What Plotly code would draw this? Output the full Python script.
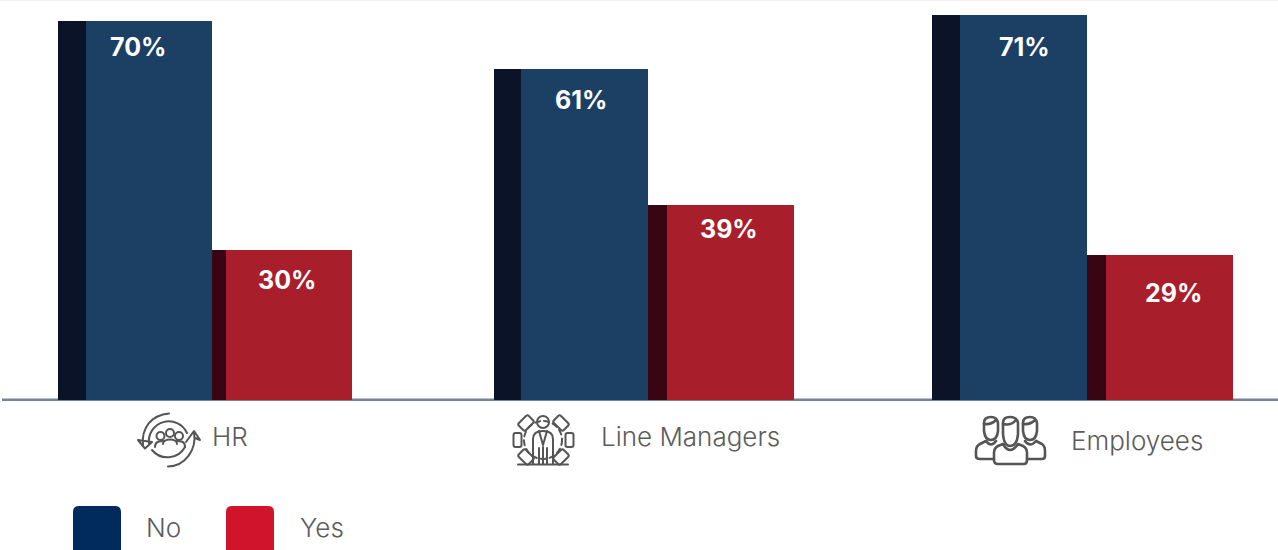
import base64
import plotly.graph_objects as go

# Survey results
categories = ["HR", "Line Managers", "Employees"]
no_values = [70, 61, 71]
yes_values = [30, 39, 29]
series_names = ["No", "Yes"]

W, H = 1278, 550
BASE_PX = 400
NO_SCALE = 5.42    # pixels per percentage point, "No" bars
YES_SCALE = 5.0    # pixels per percentage point, "Yes" bars

# Horizontal bar geometry, one row per group: side-face left, front left, front right
NO_GEOM = [(58, 86, 212), (494, 521, 648), (932, 960, 1087)]
YES_GEOM = [(212, 226, 352), (648, 667, 794), (1087, 1106, 1233)]
# Value label anchors (x centre, y centre)
NO_LABEL_POS = [(138, 47), (581, 100), (1024, 47)]
YES_LABEL_POS = [(287, 280), (729, 229), (1173, 293)]
CAT_LABEL_POS = [(210, 436), (599, 436), (1069, 441)]

NO_FRONT, NO_SIDE, YES_FRONT, YES_SIDE = "#1c3f64", "#0a1327", "#a81e2b", "#3a0513"
NO_KEY, YES_KEY = "#012b5d", "#d0142c"
TEXT = "#5c5c5c"
ICON = "#555555"
LABEL_FONT = dict(family="Inter, sans-serif", size=25, color="white", weight=700)
TEXT_FONT = dict(family="Inter, sans-serif", size=26, color=TEXT, weight=300)


def py(px):
    return 1 - px / H


def bar_pair(values, geom, front, side, axis, name):
    """A solid front face plus the darker side face, both from the same values."""
    side_x = [(g[0] + g[1]) / 2 for g in geom]
    side_w = [g[1] - g[0] for g in geom]
    front_x = [(g[1] + g[2]) / 2 for g in geom]
    front_w = [g[2] - g[1] for g in geom]
    common = dict(y=values, yaxis=axis, marker_line_width=0, showlegend=False)
    return [
        go.Bar(x=side_x, width=side_w, marker_color=side, name=name + " side",
               hoverinfo="skip", **common),
        go.Bar(x=front_x, width=front_w, marker_color=front, name=name,
               customdata=categories, hovertemplate="%{customdata}: %{y}%<extra></extra>", **common),
    ]


fig = go.Figure()
fig.add_traces(bar_pair(no_values, NO_GEOM, NO_FRONT, NO_SIDE, "y", series_names[0]))
fig.add_traces(bar_pair(yes_values, YES_GEOM, YES_FRONT, YES_SIDE, "y2", series_names[1]))


def value_labels(values, positions):
    return [
        dict(text=f"<b>{v}%</b>", x=p[0], y=py(p[1]), xref="x", yref="paper",
             showarrow=False, xanchor="center", yanchor="middle", font=LABEL_FONT)
        for v, p in zip(values, positions)
    ]


annotations = value_labels(no_values, NO_LABEL_POS) + value_labels(yes_values, YES_LABEL_POS)
for name, p in zip(categories, CAT_LABEL_POS):
    annotations.append(dict(text=name, x=p[0], y=py(p[1]), xref="x", yref="paper", showarrow=False,
                            xanchor="left", yanchor="middle", font=TEXT_FONT))
for name, x in zip(series_names, (144, 298)):
    annotations.append(dict(text=name, x=x, y=py(527), xref="x", yref="paper", showarrow=False,
                            xanchor="left", yanchor="middle", font=TEXT_FONT))


def rounded_key(x0, x1, y0, y1, r, colour):
    path = (f"M{x0},{py(y1)} L{x0},{py(y0 + r)} Q{x0},{py(y0)} {x0 + r},{py(y0)} "
            f"L{x1 - r},{py(y0)} Q{x1},{py(y0)} {x1},{py(y0 + r)} L{x1},{py(y1)} Z")
    return dict(type="path", path=path, xref="x", yref="paper", fillcolor=colour, line_width=0)


shapes = [
    dict(type="rect", x0=0, x1=W, y0=py(1), y1=1, xref="x", yref="paper",
         fillcolor="#efefef", line_width=0, layer="below"),
    dict(type="rect", x0=2, x1=W, y0=py(401), y1=py(398.5), xref="x", yref="paper",
         fillcolor="#75839a", line_width=0, layer="below"),
    rounded_key(73, 121, 506, 553, 6, NO_KEY),
    rounded_key(226, 274, 506, 553, 6, YES_KEY),
]

# Line icons beside the category names
HR_ICON = """
<path d="M169 413.5 C152 415 141 427 143 446"/>
<path d="M138 440 L145 448.5 L152 442 Z"/>
<path d="M168 466.5 C185 466 197 450 194 432"/>
<path d="M186 442 L194 431 L200 440 L195 438"/>
<path d="M149 444 A20 20 0 0 1 187 433"/>
<path d="M152 450 A20 20 0 0 0 185 447"/>
<circle cx="160.5" cy="436" r="4"/><circle cx="170" cy="433" r="4"/><circle cx="179" cy="436" r="4"/>
<path d="M155 447 C155 441 160 441 164 441"/>
<path d="M163 444 C163 438 177 438 177 444"/>
<path d="M176 441 C181 441 185 441 185 447"/>
"""
LM_ICON = """
<circle cx="543" cy="422" r="6"/>
<circle cx="543" cy="440" r="19" stroke-dasharray="5 4"/>
<path d="M533 464 L533 439 Q533 431 543 431 Q553 431 553 439 L553 464"/>
<path d="M539 431 L543 445 L547 431 M539 448 L539 464 M547 448 L547 464 M543 447 L543 464"/>
<path d="M518 464.5 L568 464.5"/>
<g transform="rotate(-45 526 423)"><rect x="519" y="418" width="14" height="10" rx="2"/></g>
<g transform="rotate(45 561 423)"><rect x="554" y="418" width="14" height="10" rx="2"/></g>
<rect x="513.5" y="433" width="8" height="14" rx="2"/>
<rect x="565.5" y="433" width="8" height="14" rx="2"/>
<g transform="rotate(45 526 457)"><rect x="519" y="452" width="14" height="10" rx="2"/></g>
<g transform="rotate(-45 561 457)"><rect x="554" y="452" width="14" height="10" rx="2"/></g>
"""
EMP_ICON = """
<path d="M984 423 Q984 417 991 417 Q997 417 998 423 L998 431 Q997 440 991 440 Q985 440 984 431 Z"/>
<path d="M1023 423 Q1023 417 1030 417 Q1036 417 1037 423 L1037 431 Q1036 440 1030 440 Q1024 440 1023 431 Z"/>
<path d="M1003 423 Q1003 417 1010 417 Q1017 417 1018 423 L1018 434 Q1017 446 1010 446 Q1004 446 1003 434 Z"/>
<path d="M984 424 Q991 425 996 420 M1023 424 Q1030 425 1035 420 M1003 424 Q1011 426 1016 420"/>
<path d="M986 441 L980 444 Q976 446 976 451 L976 456 Q976 459 980 459 L994 459"/>
<path d="M1036 441 L1042 444 Q1045 446 1045 451 L1045 456 Q1045 459 1042 459 L1027 459"/>
<path d="M1003 444 L998 446 Q994 448 994 453 L994 460 Q994 464 998 464 L1024 464 Q1027 464 1027 460 L1027 453 Q1027 448 1023 446 L1018 444 Q1010 456 1003 444 Z"/>
<path d="M986 441 Q991 448 996 441 M1025 441 Q1030 448 1036 441"/>
"""


def icon_image(body, x, y, w, h, width):
    svg = (f'<svg xmlns="http://www.w3.org/2000/svg" width="{w}" height="{h}" viewBox="{x} {y} {w} {h}">'
           f'<g fill="none" stroke="{ICON}" stroke-width="{width}" stroke-linejoin="round" '
           f'stroke-linecap="round">{body}</g></svg>')
    src = "data:image/svg+xml;base64," + base64.b64encode(svg.encode()).decode()
    return dict(source=src, xref="x", yref="paper", x=x, y=py(y), sizex=w, sizey=h / H,
                xanchor="left", yanchor="top", sizing="stretch", layer="above")


images = [
    icon_image(HR_ICON, 130, 406, 80, 66, 2),
    icon_image(LM_ICON, 505, 408, 80, 62, 2),
    icon_image(EMP_ICON, 970, 410, 82, 60, 2.6),
]

fig.update_layout(
    width=W, height=H, margin=dict(l=0, r=0, t=0, b=0),
    paper_bgcolor="white", plot_bgcolor="white", barmode="overlay", bargap=0,
    showlegend=False,
    xaxis=dict(range=[0, W], visible=False, fixedrange=True),
    yaxis=dict(range=[-(H - BASE_PX) / NO_SCALE, BASE_PX / NO_SCALE], visible=False, fixedrange=True),
    yaxis2=dict(range=[-(H - BASE_PX) / YES_SCALE, BASE_PX / YES_SCALE], visible=False,
                overlaying="y", fixedrange=True),
    annotations=annotations, shapes=shapes, images=images,
)

fig.write_html("out.html", config=dict(displayModeBar=False))
